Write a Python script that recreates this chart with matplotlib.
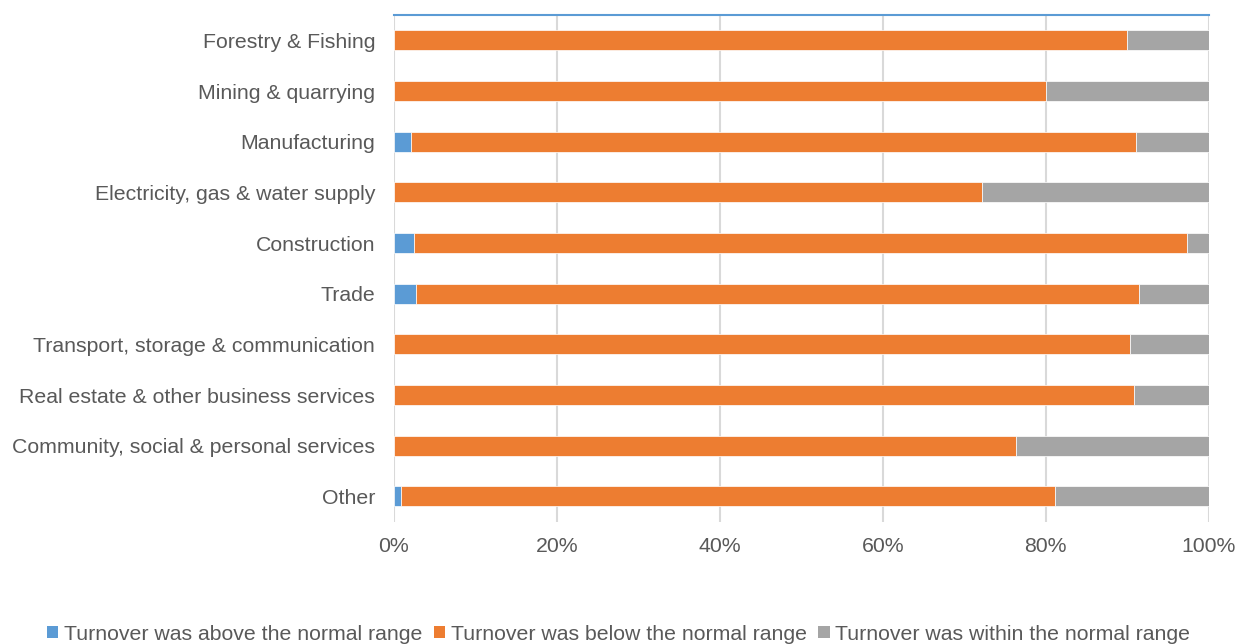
import numpy as np
import matplotlib
matplotlib.use("Agg")
import matplotlib.pyplot as plt
from matplotlib.patches import Patch
from matplotlib.ticker import PercentFormatter

plt.rcParams["font.family"] = ["Liberation Sans", "DejaVu Sans"]

# Sector shares (%)
sectors = [
    "Forestry & Fishing",
    "Mining & quarrying",
    "Manufacturing",
    "Electricity, gas & water supply",
    "Construction",
    "Trade",
    "Transport, storage & communication",
    "Real estate & other business services",
    "Community, social & personal services",
    "Other",
]
above  = [0.0, 0.0, 2.1, 0.0, 2.5, 2.7, 0.0, 0.0, 0.0, 0.8]
below  = [90.0, 80.0, 89.0, 72.2, 94.8, 88.8, 90.4, 90.8, 76.4, 80.4]
within = [10.0, 20.0, 8.9, 27.8, 2.7, 8.5, 9.6, 9.2, 23.6, 18.8]
series_names = [
    "Turnover was above the normal range",
    "Turnover was below the normal range",
    "Turnover was within the normal range",
]

BLUE, ORANGE, GRAY = "#5B9BD5", "#ED7D31", "#A5A5A5"
TEXT = "#595959"
GRID = "#D9D9D9"
FS = 15.3

fig = plt.figure(figsize=(12.37, 6.44), dpi=100)
ax = fig.add_axes([394 / 1237, 1 - 521.7 / 644, (1208.6 - 394) / 1237, (521.7 - 15) / 644])

y = np.arange(len(sectors))
a = np.array(above)
b = np.array(below)
w = np.array(within)
kw = dict(height=0.4, edgecolor="white", linewidth=0.5, zorder=3)
ax.barh(y, a, color=BLUE, **kw)
ax.barh(y, b, left=a, color=ORANGE, **kw)
ax.barh(y, w, left=a + b, color=GRAY, **kw)

ax.set_xlim(0, 100)
ax.set_ylim(len(sectors) - 0.5, -0.5)
ax.set_yticks(y)
ax.set_yticklabels(sectors)
ax.set_xticks(np.arange(0, 101, 20))
ax.xaxis.set_major_formatter(PercentFormatter(decimals=0))
ax.tick_params(axis="y", length=0, pad=13.5, labelsize=FS, labelcolor=TEXT)
ax.tick_params(axis="x", length=0, pad=11, labelsize=FS, labelcolor=TEXT)

ax.grid(axis="x", color=GRID, linewidth=1.5, zorder=0)
for side in ["left", "right", "bottom"]:
    ax.spines[side].set_visible(False)
ax.spines["top"].set_color(BLUE)
ax.spines["top"].set_linewidth(1.5)

handles = [Patch(facecolor=c, edgecolor="none") for c in (BLUE, ORANGE, GRAY)]
fig.legend(handles, series_names, loc="center", bbox_to_anchor=(0.5, 10 / 644),
           ncol=3, frameon=False, fontsize=FS, labelcolor=TEXT,
           handlelength=0.55, handleheight=0.55, handletextpad=0.25,
           columnspacing=0.55, borderaxespad=0)

fig.savefig("out.png", dpi=100)
